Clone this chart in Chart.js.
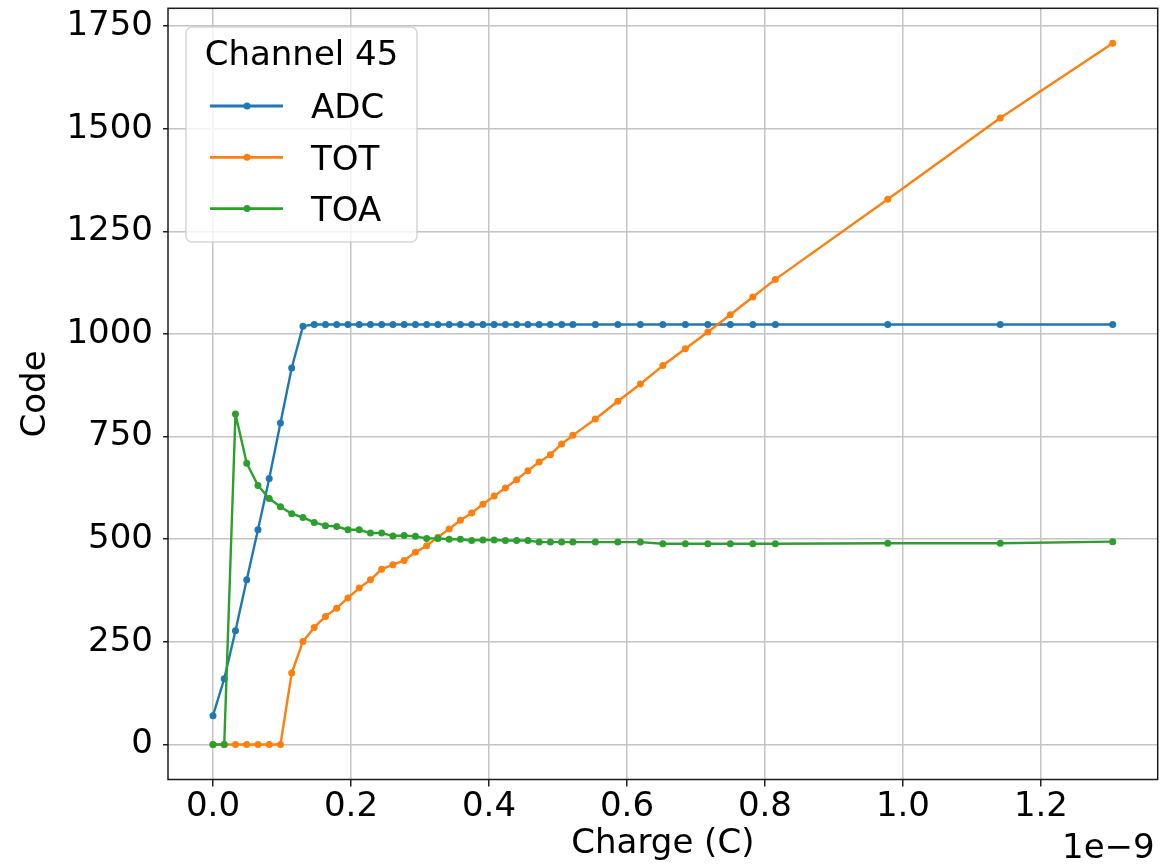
<!DOCTYPE html>
<html>
<head>
<meta charset="utf-8">
<script src="https://cdn.jsdelivr.net/npm/chart.js@4.4.0/dist/chart.umd.min.js"></script>
<style>
  body { margin: 0; background: #fff; }
  canvas { display: block; }
</style>
</head>
<body>
<canvas id="line-chart" width="1176" height="868"></canvas>
<script>
// charge in units of 1e-9 C (axis shows the 1e-9 offset)
var charge = [0, 0.0163, 0.0326, 0.0489, 0.0652, 0.0815, 0.0978, 0.1141, 0.1304, 0.1467,
  0.163, 0.1793, 0.1956, 0.2119, 0.2282, 0.2445, 0.2608, 0.2771, 0.2934, 0.3097,
  0.326, 0.3423, 0.3586, 0.3749, 0.3912, 0.4075, 0.4238, 0.4401, 0.4564, 0.4727,
  0.489, 0.5053, 0.5216, 0.5542, 0.5868, 0.6194, 0.652, 0.6846, 0.7172, 0.7498,
  0.7824, 0.815, 0.978, 1.141, 1.304];
var adc = [70, 160, 277, 401, 523, 648, 783, 917, 1019, 1023,
  1023, 1023, 1023, 1023, 1023, 1023, 1023, 1023, 1023, 1023,
  1023, 1023, 1023, 1023, 1023, 1023, 1023, 1023, 1023, 1023,
  1023, 1023, 1023, 1023, 1023, 1023, 1023, 1023, 1023, 1023,
  1023, 1023, 1023, 1023, 1023];
var tot = [0, 0, 0, 0, 0, 0, 0, 174, 251, 285,
  312, 332, 357, 381, 401, 427, 438, 448, 468, 484,
  505, 525, 546, 564, 585, 605, 625, 645, 667, 688,
  706, 732, 753, 793, 836, 878, 923, 964, 1005, 1047,
  1090, 1133, 1328, 1526, 1708];
var toa = [0, 0, 805, 685, 631, 599, 579, 562, 553, 541,
  533, 531, 523, 523, 515, 515, 508, 509, 507, 502,
  502, 500, 500, 497, 498, 498, 497, 497, 497, 493,
  493, 493, 493, 493, 493, 493, 489, 489, 489, 489,
  489, 489, 490, 490, 494];

var xTicks = [0, 0.2, 0.4, 0.6, 0.8, 1.0, 1.2];
var yTicks = [0, 250, 500, 750, 1000, 1250, 1500, 1750];
var seriesNames = ["ADC", "TOT", "TOA"];
var colors = ["#1f77b4", "#ff7f0e", "#2ca02c"];
var legendTitle = "Channel 45";

var FONT = '34px "DejaVu Sans"';
Chart.defaults.font.family = '"DejaVu Sans"';
Chart.defaults.font.size = 34;
Chart.defaults.color = '#000';

function pts(ys) {
  return charge.map(function (x, i) { return { x: x, y: ys[i] }; });
}

function series(i, ys) {
  return {
    label: seriesNames[i],
    data: pts(ys),
    borderColor: colors[i],
    backgroundColor: colors[i],
    borderWidth: 2.4,
    borderJoinStyle: 'round',
    borderCapStyle: 'round',
    pointRadius: 3.5,
    pointBorderWidth: 0,
    pointBackgroundColor: colors[i],
    tension: 0,
    order: 2 - i
  };
}

// axes frame, offset text and legend box in the upper left
var frameAndLegend = {
  id: 'frameAndLegend',
  afterDraw: function (chart) {
    var ctx = chart.ctx, a = chart.chartArea;
    ctx.save();
    ctx.strokeStyle = '#1a1a1a';
    ctx.lineWidth = 1.5;
    ctx.strokeRect(a.left, a.top, a.right - a.left, a.bottom - a.top);

    ctx.font = FONT;
    ctx.fillStyle = '#000';
    ctx.textAlign = 'right';
    ctx.textBaseline = 'alphabetic';
    ctx.fillText('1e\u22129', a.right - 3, 858);

    var bx = 186, by = 27, bw = 231, bh = 215;
    ctx.beginPath();
    ctx.roundRect(bx, by, bw, bh, 6);
    ctx.fillStyle = 'rgba(255,255,255,0.8)';
    ctx.fill();
    ctx.strokeStyle = 'rgba(204,204,204,0.8)';
    ctx.lineWidth = 1.5;
    ctx.stroke();

    ctx.fillStyle = '#000';
    ctx.textAlign = 'center';
    ctx.fillText(legendTitle, bx + bw / 2, 65);

    ctx.textAlign = 'left';
    seriesNames.forEach(function (name, i) {
      var y = 106 + i * 51.3;
      ctx.strokeStyle = colors[i];
      ctx.lineWidth = 2.8;
      ctx.beginPath();
      ctx.moveTo(210, y);
      ctx.lineTo(283, y);
      ctx.stroke();
      ctx.fillStyle = colors[i];
      ctx.beginPath();
      ctx.arc(247, y, 3.5, 0, Math.PI * 2);
      ctx.fill();
      ctx.fillStyle = '#000';
      ctx.fillText(name, 311, y + 12.3);
    });
    ctx.restore();
  }
};

new Chart(document.getElementById("line-chart"), {
  type: 'line',
  data: {
    datasets: [series(0, adc), series(1, tot), series(2, toa)]
  },
  plugins: [frameAndLegend],
  options: {
    responsive: false,
    animation: false,
    devicePixelRatio: 1,
    events: [],
    layout: { padding: { top: 8.3, right: 18.3, left: 0, bottom: 0 } },
    plugins: {
      legend: { display: false },
      tooltip: { enabled: false }
    },
    scales: {
      x: {
        type: 'linear',
        min: -0.0652,
        max: 1.3692,
        afterBuildTicks: function (s) { s.ticks = xTicks.map(function (v) { return { value: v }; }); },
        afterFit: function (s) { s.height = 88.5; s.paddingLeft = 0; s.paddingRight = 0; },
        ticks: {
          padding: 0,
          maxRotation: 0,
          autoSkip: false,
          callback: function (v) { return v.toFixed(1); }
        },
        grid: { color: '#c4c4c4', lineWidth: 1.5, tickLength: 7, tickColor: '#222', tickWidth: 1.5 },
        border: { display: false },
        title: { display: true, text: 'Charge (C)', padding: { top: 0, bottom: 3 } }
      },
      y: {
        min: -85.4,
        max: 1793.4,
        afterBuildTicks: function (s) { s.ticks = yTicks.map(function (v) { return { value: v }; }); },
        afterFit: function (s) { s.width = 168; s.paddingTop = 0; s.paddingBottom = 0; },
        ticks: {
          padding: 10,
          autoSkip: false,
          callback: function (v) { return String(v); }
        },
        grid: { color: '#c4c4c4', lineWidth: 1.5, tickLength: 5, tickColor: '#222', tickWidth: 1.5 },
        border: { display: false },
        title: { display: true, text: 'Code', padding: { top: 16, bottom: 0 } }
      }
    }
  }
});
</script>
</body>
</html>
